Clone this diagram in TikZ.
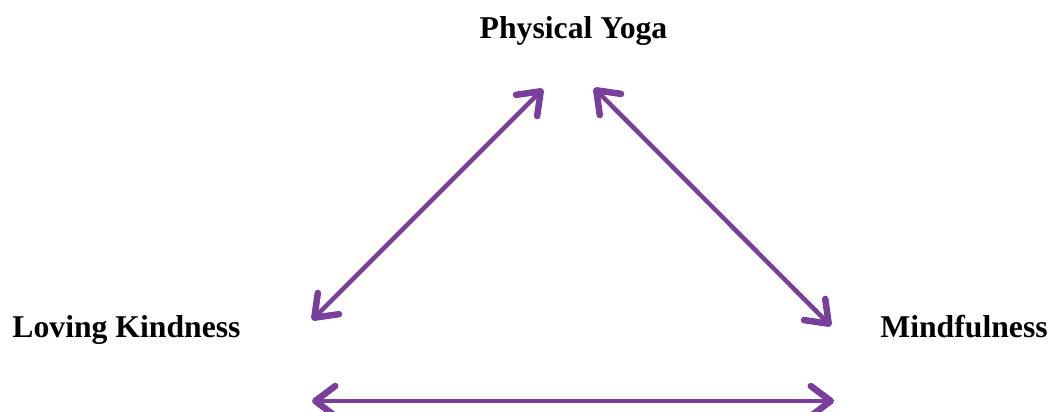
\documentclass[tikz,border=0pt]{standalone}
\usepackage{fontspec}
\setmainfont{Liberation Serif}
\usetikzlibrary{arrows.meta}
\definecolor{tim}{RGB}{122,62,156}
\begin{document}
\begin{tikzpicture}[
				x=1pt,y=-1pt,line join = round,line cap = round,
				>={Straight Barb[length=20pt,width=30pt,line width=6.5pt,line cap=round,line join=round]},
				nhan/.style={anchor=base,inner sep=0pt,font=\fontsize{31.7}{38}\selectfont\bfseries},
				muiten/.style={<->,draw = tim,line width=4.5pt}]
				\useasboundingbox (0,0) rectangle (1049,412);
				\node at (573.5,38) (nodeY) [nhan] {Physical Yoga};
				\node at (126.5,337) (nodeK) [nhan] {Loving Kindness};
				\node at (964,337) (nodeM) [nhan] {Mindfulness};
				\coordinate (kY) at (543,89);
				\coordinate (kK) at (312,320);
				\coordinate (mY) at (594,88);
				\coordinate (mM) at (831,326);
				\coordinate (dK) at (312,401);
				\coordinate (dM) at (834,401);
				\draw[muiten] (kK) to (kY);
				\draw[muiten] (mY) to (mM);
				\draw[muiten] (dK) to (dM);
			\end{tikzpicture}
\end{document}
